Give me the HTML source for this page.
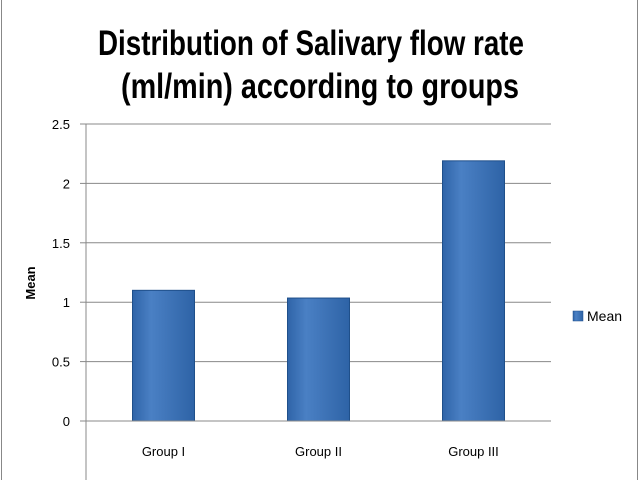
<!DOCTYPE html>
<html><head><meta charset="utf-8"><style>body{margin:0;background:#fff}svg{display:block}</style></head>
<body>
<svg width="640" height="480" font-family="Liberation Sans, sans-serif">
<defs>
<linearGradient id="bg" x1="0" x2="1" y1="0" y2="0">
<stop offset="0" stop-color="#2f64a8"/><stop offset="0.3" stop-color="#4a80c4"/><stop offset="1" stop-color="#2e63a6"/>
</linearGradient>
</defs>
<rect x="1.5" y="-2" width="636" height="490" fill="#fff" stroke="#888"/>
<text x="311" y="55" font-size="35" font-weight="bold" text-anchor="middle" textLength="426" lengthAdjust="spacingAndGlyphs" fill="#000">Distribution of Salivary flow rate</text>
<text x="320" y="98" font-size="35" font-weight="bold" text-anchor="middle" textLength="398" lengthAdjust="spacingAndGlyphs" fill="#000">(ml/min) according to groups</text>
<g id="grid"></g>
<g id="bars"></g>
<g id="axes"></g>
<text transform="translate(35,283) rotate(-90)" font-size="13" font-weight="bold" text-anchor="middle">Mean</text>
<rect x="573" y="311" width="10" height="10" fill="url(#bg)" stroke="#1f4f8a" stroke-width="0.5"/>
<text x="587" y="321" font-size="14">Mean</text>
</svg>
<script>
const categories=["Group I","Group II","Group III"];
const values=[1.10,1.035,2.19];
const ticks=[0,0.5,1,1.5,2,2.5];
const tickLabels=["0","0.5","1","1.5","2","2.5"];
const ns="http://www.w3.org/2000/svg";
const x0=86,x1=551,yTop=124,yBot=421,ymax=2.5;
const y=v=>yBot-(v/ymax)*(yBot-yTop);
const band=(x1-x0)/categories.length;
function mk(t,a,p){const e=document.createElementNS(ns,t);for(const k in a)e.setAttribute(k,a[k]);p.appendChild(e);return e;}
const grid=document.getElementById('grid'),bars=document.getElementById('bars'),axes=document.getElementById('axes');
ticks.forEach((t,i)=>{
 if(t>0){const l=mk('line',{x1:x0,x2:x1,y1:y(t),y2:y(t),stroke:'#888','stroke-width':1},grid);
 
 }
 const tk=mk('line',{x1:x0-6,x2:x0,y1:y(t),y2:y(t),stroke:'#888'},axes);
 
 
 const tx=mk('text',{x:x0-16,y:y(t)+5,'font-size':13,'text-anchor':'end'},axes);tx.textContent=tickLabels[i];
 
 
});
categories.forEach((c,i)=>{
 const cx=x0+band*(i+0.5),w=62;
 const r=mk('rect',{x:cx-w/2,y:y(values[i]),width:w,height:yBot-y(values[i]),fill:'url(#bg)',stroke:'#1f4f8a','stroke-width':1},bars);
 
 
 const tx=mk('text',{x:cx,y:456,'font-size':13,'text-anchor':'middle'},axes);tx.textContent=c;
 
 
});
const ya=mk('line',{x1:x0,x2:x0,y1:yTop,y2:480,stroke:'#888'},axes);


const xa=mk('line',{x1:x0,x2:x1,y1:yBot,y2:yBot,stroke:'#888'},axes);


</script>
</body></html>
